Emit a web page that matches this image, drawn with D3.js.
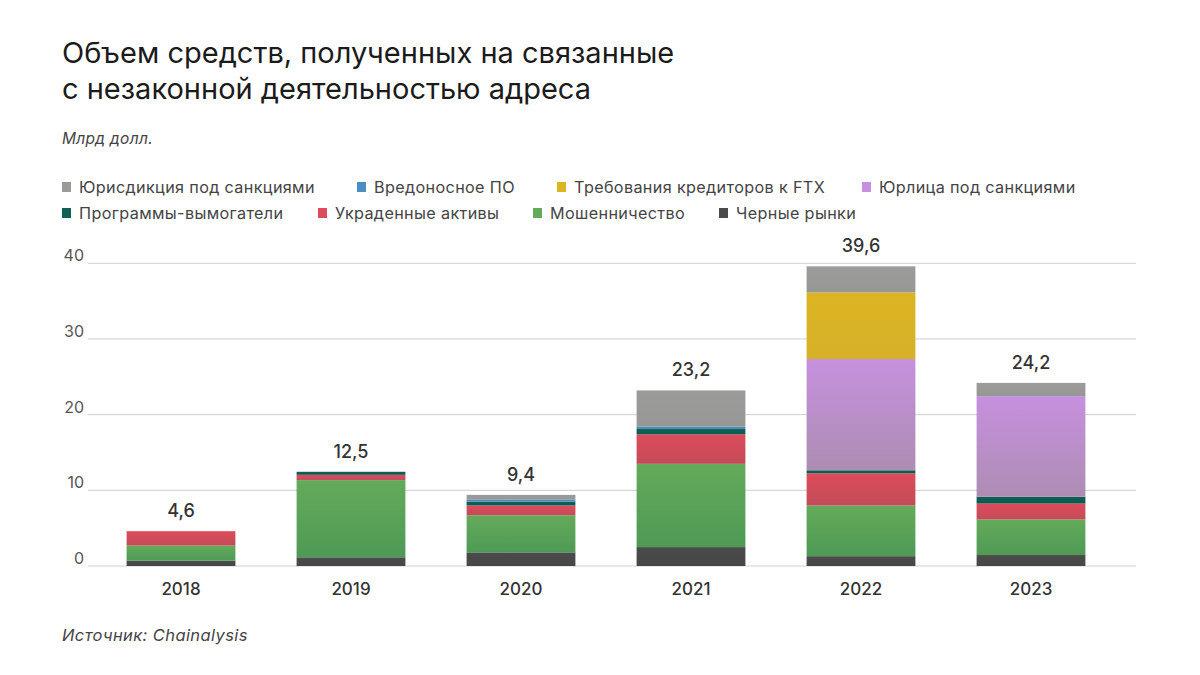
<!DOCTYPE html>
<html><head><meta charset="utf-8">
<script src="https://cdn.jsdelivr.net/npm/d3@7"></script>
<style>
html,body{margin:0;padding:0;background:#fff;}
svg{display:block;}
text{font-family:Inter,"Noto Sans",sans-serif;}
</style></head><body>
<svg id="chart" width="1200" height="675"></svg>
<script>
const years = ["2018","2019","2020","2021","2022","2023"];
const seriesNames = ["Черные рынки","Мошенничество","Украденные активы","Программы-вымогатели","Юрлица под санкциями","Требования кредиторов к FTX","Вредоносное ПО","Юрисдикция под санкциями"];
const blackMarkets   = [0.7, 1.15, 1.8, 2.5, 1.3, 1.45];
const scams          = [2.0, 10.2, 4.9, 11.0, 6.7, 4.7];
const stolen         = [1.9, 0.7, 1.3, 3.9, 4.25, 2.1];
const ransomware     = [0, 0.4, 0.5, 0.7, 0.4, 0.9];
const sanctionedEnt  = [0, 0, 0, 0, 14.7, 13.3];
const ftxClaims      = [0, 0, 0, 0, 8.8, 0];
const malware        = [0, 0, 0.3, 0.3, 0, 0];
const sanctionedJur  = [0, 0, 0.6, 4.8, 3.45, 1.75];
const totals         = ["4,6","12,5","9,4","23,2","39,6","24,2"];
const yTicks         = [0, 10, 20, 30, 40];
const legendRow1 = ["Юрисдикция под санкциями","Вредоносное ПО","Требования кредиторов к FTX","Юрлица под санкциями"];
const legendRow2 = ["Программы-вымогатели","Украденные активы","Мошенничество","Черные рынки"];

const seriesValues = [blackMarkets, scams, stolen, ransomware, sanctionedEnt, ftxClaims, malware, sanctionedJur];
const colors = {
  "Черные рынки":["#4b4b4b","#464646"],
  "Мошенничество":["#64aa5a","#4e9a55"],
  "Украденные активы":["#de4b5c","#c24c58"],
  "Программы-вымогатели":["#0f6055","#0c5a4f"],
  "Юрлица под санкциями":["#c690de","#ad8db3"],
  "Требования кредиторов к FTX":["#dcb523","#d6b128"],
  "Вредоносное ПО":["#4b8ec3","#4a88ba"],
  "Юрисдикция под санкциями":["#9b9c9a","#979896"]
};

const data = years.map((y,i)=>{
  const o={year:y};
  seriesNames.forEach((s,k)=>o[s]=seriesValues[k][i]);
  return o;
});

const svg = d3.select("#chart");
const defs = svg.append("defs");
seriesNames.forEach((s,k)=>{
  const g = defs.append("linearGradient").attr("id","g"+k).attr("x1",0).attr("y1",0).attr("x2",0).attr("y2",1);
  g.append("stop").attr("offset","0%").attr("stop-color",colors[s][0]);
  g.append("stop").attr("offset","100%").attr("stop-color",colors[s][1]);
});

const x = d3.scaleBand().domain(years).range([96,1116]).paddingInner(0.36).paddingOuter(0.18);
const y = d3.scaleLinear().domain([0,40]).range([566,263.3]);

// title
svg.append("text").attr("x",62).attr("y",63).attr("font-size",29).attr("fill","#1b1b1b").text("Объем средств, полученных на связанные");
svg.append("text").attr("x",62).attr("y",99).attr("font-size",29).attr("fill","#1b1b1b").text("с незаконной деятельностью адреса");
svg.append("text").attr("x",62).attr("y",144).attr("font-size",15.5).attr("letter-spacing",0.3).attr("font-style","italic").attr("fill","#444").text("Млрд долл.");

// legend
const leg1x = [62,357,557,862];
const leg2x = [62,318,533,719];
function legendRow(names, xs, yy){
  names.forEach((n,i)=>{
    svg.append("rect").attr("x",xs[i]).attr("y",yy-5).attr("width",9).attr("height",10).attr("fill",colors[n][0]);
    svg.append("text").attr("x",xs[i]+17).attr("y",yy).attr("dy","0.35em").attr("font-size",16.2).attr("letter-spacing",0.35).attr("fill","#444").text(n);
  });
}
legendRow(legendRow1, leg1x, 187);
legendRow(legendRow2, leg2x, 213);

// grid
const grid = svg.append("g");
grid.selectAll("line").data(yTicks).join("line")
  .attr("x1",88).attr("x2",1136).attr("y1",d=>y(d)).attr("y2",d=>y(d))
  .attr("stroke","#cfcfcf").attr("stroke-width",1);
svg.append("g").selectAll("text").data(yTicks).join("text")
  .attr("x",84).attr("y",d=>y(d)-2).attr("text-anchor","end").attr("font-size",16).attr("fill","#555").text(d=>d);

// bars
const stack = d3.stack().keys(seriesNames)(data);
svg.append("g").selectAll("g").data(stack).join("g")
  .attr("fill",(d,k)=>`url(#g${k})`)
  .selectAll("rect").data(d=>d.filter(p=>p[1]-p[0]>0)).join("rect")
  .attr("x",d=>x(d.data.year)).attr("width",x.bandwidth())
  .attr("y",d=>y(d[1])).attr("height",d=>y(d[0])-y(d[1]));

// totals
const topVals = data.map(d=>d3.sum(seriesNames,s=>d[s]));
svg.append("g").selectAll("text").data(years).join("text")
  .attr("x",d=>x(d)+x.bandwidth()/2).attr("y",(d,i)=>y(topVals[i])-14)
  .attr("text-anchor","middle").attr("font-size",18).attr("font-weight",500).attr("fill","#333")
  .text((d,i)=>totals[i]);

// x axis labels
svg.append("g").selectAll("text").data(years).join("text")
  .attr("x",d=>x(d)+x.bandwidth()/2).attr("y",595)
  .attr("text-anchor","middle").attr("font-size",17).attr("font-weight",500).attr("fill","#333").text(d=>d);

svg.append("text").attr("x",62).attr("y",641).attr("font-size",16.5).attr("letter-spacing",0.4).attr("font-style","italic").attr("fill","#444").text("Источник: Chainalysis");
</script>
</body></html>
